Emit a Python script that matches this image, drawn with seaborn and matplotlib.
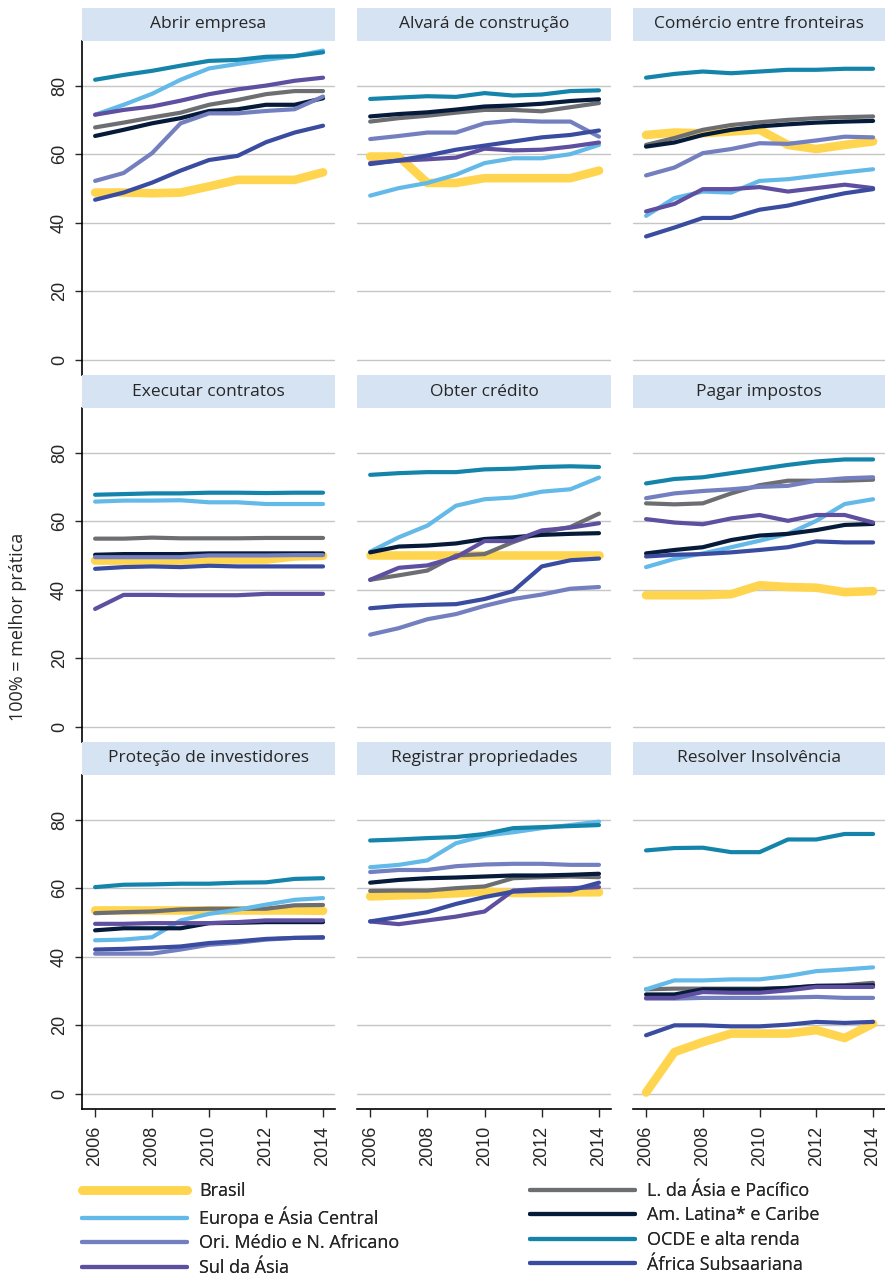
import numpy as np
import pandas as pd
import matplotlib
matplotlib.use('Agg')
import matplotlib.pyplot as plt
from matplotlib.patches import Rectangle
from matplotlib.lines import Line2D
import seaborn as sns

# --- Dados (Doing Business, distância da fronteira) ---
years = list(range(2006, 2015))

regions = ['Brasil', 'L. da Ásia e Pacífico', 'Europa e Ásia Central',
           'Am. Latina* e Caribe', 'Ori. Médio e N. Africano',
           'OCDE e alta renda', 'Sul da Ásia', 'África Subsaariana']

titles = ['Abrir empresa', 'Alvará de construção', 'Comércio entre fronteiras',
          'Executar contratos', 'Obter crédito', 'Pagar impostos',
          'Proteção de investidores', 'Registrar propriedades', 'Resolver Insolvência']

abrir_empresa = {
    'Brasil':                   [48.8, 48.8, 48.6, 48.8, 50.6, 52.5, 52.5, 52.5, 54.7],
    'L. da Ásia e Pacífico':    [67.8, 69.2, 70.7, 72.1, 74.4, 75.8, 77.5, 78.4, 78.4],
    'Europa e Ásia Central':    [71.5, 74.4, 77.6, 81.7, 85.0, 86.3, 87.5, 88.6, 90.2],
    'Am. Latina* e Caribe':     [65.3, 67.1, 69.0, 70.5, 72.6, 73.1, 74.4, 74.4, 76.3],
    'Ori. Médio e N. Africano': [52.2, 54.5, 60.3, 69.0, 71.9, 71.9, 72.6, 73.1, 76.8],
    'OCDE e alta renda':        [81.7, 83.1, 84.3, 85.8, 87.2, 87.5, 88.4, 88.6, 89.7],
    'Sul da Ásia':              [71.5, 72.9, 73.9, 75.6, 77.5, 78.9, 80.0, 81.4, 82.3],
    'África Subsaariana':       [46.7, 48.8, 51.7, 55.2, 58.3, 59.5, 63.5, 66.3, 68.3],
}
alvara = {
    'Brasil':                   [59.3, 59.3, 51.6, 51.6, 53.0, 53.0, 53.0, 53.0, 55.2],
    'L. da Ásia e Pacífico':    [69.5, 70.5, 71.2, 72.1, 72.9, 72.9, 72.5, 73.7, 74.9],
    'Europa e Ásia Central':    [47.9, 50.1, 51.6, 54.0, 57.4, 58.8, 58.8, 60.0, 62.7],
    'Am. Latina* e Caribe':     [71.0, 71.7, 72.2, 73.0, 73.9, 74.2, 74.7, 75.5, 76.0],
    'Ori. Médio e N. Africano': [64.4, 65.3, 66.3, 66.3, 69.0, 69.8, 69.5, 69.5, 65.1],
    'OCDE e alta renda':        [76.1, 76.5, 76.9, 76.7, 77.8, 77.1, 77.4, 78.4, 78.6],
    'Sul da Ásia':              [57.4, 58.1, 58.5, 59.0, 61.6, 61.1, 61.3, 62.2, 63.4],
    'África Subsaariana':       [57.1, 58.2, 59.6, 61.3, 62.5, 63.7, 64.9, 65.6, 66.9],
}
comercio = {
    'Brasil':                   [65.6, 66.3, 66.1, 66.6, 67.1, 62.7, 61.5, 62.7, 63.7],
    'L. da Ásia e Pacífico':    [62.7, 64.7, 67.1, 68.5, 69.3, 70.0, 70.5, 70.8, 71.0],
    'Europa e Ásia Central':    [42.0, 47.2, 49.1, 48.8, 52.2, 52.7, 53.7, 54.7, 55.6],
    'Am. Latina* e Caribe':     [62.2, 63.4, 65.6, 67.1, 68.1, 68.7, 69.2, 69.5, 69.7],
    'Ori. Médio e N. Africano': [53.8, 56.1, 60.3, 61.5, 63.2, 63.0, 64.0, 65.1, 64.9],
    'OCDE e alta renda':        [82.3, 83.4, 84.1, 83.6, 84.1, 84.6, 84.6, 84.9, 84.9],
    'Sul da Ásia':              [43.3, 45.5, 49.8, 49.8, 50.4, 49.1, 50.1, 51.1, 50.1],
    'África Subsaariana':       [36.0, 38.6, 41.4, 41.4, 43.8, 45.0, 46.9, 48.6, 49.8],
}
contratos = {
    'Brasil':                   [48.5, 48.5, 48.5, 48.5, 48.8, 48.8, 48.8, 49.7, 49.9],
    'L. da Ásia e Pacífico':    [54.9, 54.9, 55.2, 55.0, 55.0, 55.0, 55.1, 55.1, 55.1],
    'Europa e Ásia Central':    [65.7, 66.0, 66.0, 66.1, 65.5, 65.5, 65.0, 65.0, 65.0],
    'Am. Latina* e Caribe':     [50.2, 50.4, 50.4, 50.4, 50.6, 50.6, 50.6, 50.6, 50.6],
    'Ori. Médio e N. Africano': [49.5, 49.5, 49.5, 49.5, 50.0, 50.0, 50.0, 50.1, 50.1],
    'OCDE e alta renda':        [67.7, 67.9, 68.1, 68.1, 68.3, 68.3, 68.2, 68.3, 68.3],
    'Sul da Ásia':              [34.4, 38.5, 38.5, 38.4, 38.4, 38.4, 38.8, 38.8, 38.8],
    'África Subsaariana':       [46.1, 46.6, 46.8, 46.6, 47.0, 46.8, 46.8, 46.8, 46.8],
}
credito = {
    'Brasil':                   [50.0, 50.0, 50.0, 50.0, 50.0, 50.0, 50.0, 50.0, 50.0],
    'L. da Ásia e Pacífico':    [42.9, 44.2, 45.6, 50.0, 50.4, 53.9, 56.8, 58.3, 62.2],
    'Europa e Ásia Central':    [51.1, 55.3, 58.7, 64.5, 66.4, 66.9, 68.6, 69.3, 72.7],
    'Am. Latina* e Caribe':     [50.9, 52.6, 52.9, 53.5, 54.8, 55.3, 56.0, 56.3, 56.5],
    'Ori. Médio e N. Africano': [26.9, 28.8, 31.4, 32.9, 35.3, 37.3, 38.6, 40.3, 40.8],
    'OCDE e alta renda':        [73.5, 74.0, 74.3, 74.3, 75.1, 75.3, 75.8, 76.0, 75.8],
    'Sul da Ásia':              [42.9, 46.4, 47.1, 49.5, 54.2, 54.2, 57.3, 58.1, 59.4],
    'África Subsaariana':       [34.6, 35.3, 35.6, 35.8, 37.3, 39.6, 46.8, 48.6, 49.1],
}
impostos = {
    'Brasil':                   [38.4, 38.4, 38.4, 38.7, 41.3, 40.8, 40.6, 39.3, 39.6],
    'L. da Ásia e Pacífico':    [65.2, 64.9, 65.2, 68.1, 70.5, 71.8, 71.8, 71.8, 72.1],
    'Europa e Ásia Central':    [46.6, 49.0, 50.6, 52.4, 54.3, 56.3, 60.1, 65.0, 66.4],
    'Am. Latina* e Caribe':     [50.6, 51.6, 52.4, 54.5, 55.8, 56.3, 57.4, 58.9, 59.2],
    'Ori. Médio e N. Africano': [66.7, 68.1, 68.8, 69.3, 70.0, 70.3, 71.8, 72.5, 72.8],
    'OCDE e alta renda':        [71.0, 72.3, 72.8, 74.0, 75.2, 76.4, 77.4, 78.0, 78.0],
    'Sul da Ásia':              [60.6, 59.6, 59.1, 60.8, 61.8, 60.1, 61.8, 61.8, 59.6],
    'África Subsaariana':       [49.7, 50.2, 50.4, 50.9, 51.6, 52.4, 54.1, 53.8, 53.8],
}
investidores = {
    'Brasil':                   [53.5, 53.5, 53.5, 53.5, 53.5, 53.5, 53.5, 53.5, 53.4],
    'L. da Ásia e Pacífico':    [52.7, 53.0, 53.2, 53.8, 54.0, 54.0, 54.0, 55.0, 55.1],
    'Europa e Ásia Central':    [44.8, 45.0, 45.7, 50.6, 52.5, 53.7, 55.2, 56.6, 57.1],
    'Am. Latina* e Caribe':     [47.7, 48.3, 48.3, 48.3, 49.8, 49.9, 50.1, 50.1, 50.1],
    'Ori. Médio e N. Africano': [40.9, 40.9, 40.9, 42.1, 43.5, 44.1, 45.0, 45.5, 45.5],
    'OCDE e alta renda':        [60.3, 61.0, 61.1, 61.3, 61.3, 61.6, 61.7, 62.7, 62.9],
    'Sul da Ásia':              [49.6, 49.6, 49.8, 49.8, 49.8, 50.1, 50.6, 50.6, 50.6],
    'África Subsaariana':       [42.1, 42.3, 42.6, 43.0, 44.0, 44.5, 45.2, 45.5, 45.7],
}
propriedades = {
    'Brasil':                   [57.6, 57.9, 58.1, 58.5, 59.0, 58.6, 58.6, 58.8, 58.8],
    'L. da Ásia e Pacífico':    [59.2, 59.3, 59.3, 60.0, 60.5, 62.9, 63.2, 63.4, 63.2],
    'Europa e Ásia Central':    [66.1, 66.8, 68.1, 73.1, 75.3, 76.3, 77.5, 78.4, 79.4],
    'Am. Latina* e Caribe':     [61.6, 62.4, 62.9, 63.1, 63.4, 63.7, 63.7, 63.9, 64.2],
    'Ori. Médio e N. Africano': [64.7, 65.3, 65.3, 66.4, 66.9, 67.1, 67.1, 66.8, 66.8],
    'OCDE e alta renda':        [73.9, 74.2, 74.6, 74.9, 75.8, 77.5, 77.8, 78.1, 78.4],
    'Sul da Ásia':              [50.3, 49.5, 50.6, 51.7, 53.2, 59.3, 59.8, 60.0, 60.3],
    'África Subsaariana':       [50.3, 51.6, 53.0, 55.4, 57.4, 59.0, 59.3, 59.3, 61.6],
}
insolvencia = {
    'Brasil':                   [0.4, 12.2, 15.1, 17.6, 17.6, 17.6, 18.6, 16.3, 20.5],
    'L. da Ásia e Pacífico':    [30.5, 30.7, 30.7, 30.7, 30.7, 30.9, 31.5, 31.7, 32.4],
    'Europa e Ásia Central':    [30.5, 33.1, 33.1, 33.4, 33.4, 34.4, 35.8, 36.3, 36.9],
    'Am. Latina* e Caribe':     [29.0, 29.0, 30.5, 30.5, 30.5, 30.9, 31.5, 31.5, 31.7],
    'Ori. Médio e N. Africano': [27.8, 27.8, 28.0, 28.0, 28.0, 28.1, 28.3, 28.0, 28.0],
    'OCDE e alta renda':        [71.0, 71.7, 71.8, 70.5, 70.5, 74.2, 74.2, 75.8, 75.8],
    'Sul da Ásia':              [28.0, 28.0, 29.7, 29.5, 29.5, 30.2, 31.2, 31.2, 31.2],
    'África Subsaariana':       [17.1, 20.0, 20.0, 19.7, 19.7, 20.2, 21.0, 20.7, 21.0],
}

panels = [abrir_empresa, alvara, comercio, contratos, credito, impostos,
          investidores, propriedades, insolvencia]

# Tabela longa para o seaborn
rows = []
for title, panel in zip(titles, panels):
    for reg in regions:
        for yr, val in zip(years, panel[reg]):
            rows.append({'painel': title, 'regiao': reg, 'ano': yr, 'valor': val})
df = pd.DataFrame(rows)

# --- Estilo ---
cores = {
    'Brasil': '#ffd54f',
    'L. da Ásia e Pacífico': '#6d6e71',
    'Europa e Ásia Central': '#63b9e8',
    'Am. Latina* e Caribe': '#061b3a',
    'Ori. Médio e N. Africano': '#737fbf',
    'OCDE e alta renda': '#1484aa',
    'Sul da Ásia': '#5e4fa0',
    'África Subsaariana': '#3a4c9f',
}
larguras = {r: 3.0 for r in regions}
larguras['Brasil'] = 6.2

sns.set_style('white')
plt.rcParams['font.family'] = ['Liberation Sans', 'DejaVu Sans']
fonte_txt = ['Open Sans', 'DejaVu Sans']

fig = plt.figure(figsize=(8.85, 12.77), dpi=100)
W, H = 885, 1277
col_left = [82, 357, 633]
col_w = [253, 254, 252]
row_top = [41, 408, 775]
plot_h = 334
strip_h = 33

for i, title in enumerate(titles):
    r, c = divmod(i, 3)
    ax = fig.add_axes([col_left[c] / W, 1 - (row_top[r] + plot_h) / H,
                       col_w[c] / W, plot_h / H])
    sub = df[df['painel'] == title]
    sns.lineplot(data=sub, x='ano', y='valor', hue='regiao', size='regiao',
                 hue_order=regions, size_order=regions, palette=cores,
                 sizes=larguras, estimator=None, legend=False, ax=ax,
                 solid_capstyle='round')

    ax.set_xlim(2005.54, 2014.42)
    ax.set_ylim(-4.4, 93)
    ax.set_yticks([0, 20, 40, 60, 80])
    ax.set_xticks([2006, 2008, 2010, 2012, 2014])
    ax.yaxis.grid(True, color='#c6c6c6', linewidth=1)
    ax.xaxis.grid(False)
    ax.set_axisbelow(True)
    ax.set_xlabel('')
    ax.set_ylabel('')
    for s in ['top', 'right']:
        ax.spines[s].set_visible(False)

    if c == 0:
        ax.spines['left'].set_color('black')
        ax.spines['left'].set_linewidth(1.2)
        ax.tick_params(axis='y', direction='out', length=5, width=1, pad=5,
                       labelsize=13, left=True, labelrotation=90)
        plt.setp(ax.get_yticklabels(), va='center')
    else:
        ax.spines['left'].set_visible(False)
        ax.tick_params(axis='y', left=False, labelleft=False)

    if r == 2:
        ax.spines['bottom'].set_color('black')
        ax.spines['bottom'].set_linewidth(1.2)
        ax.tick_params(axis='x', direction='out', length=6, width=1, pad=6,
                       labelsize=13, bottom=True, labelrotation=90)
    else:
        ax.spines['bottom'].set_visible(False)
        ax.tick_params(axis='x', bottom=False, labelbottom=False)

    # faixa de título (estilo Stata)
    ax.add_patch(Rectangle((0, 1), 1, strip_h / plot_h, transform=ax.transAxes,
                           facecolor='#d5e3f3', edgecolor='none', clip_on=False,
                           zorder=5))
    ax.text(0.5, 1 + strip_h / plot_h / 2, title, transform=ax.transAxes,
            ha='center', va='center', fontsize=12.5, family=fonte_txt, zorder=6)

fig.text(18 / W, 1 - 627 / H, '100% = melhor prática', rotation=90,
         ha='center', va='center', fontsize=13, family=fonte_txt)

# --- Legenda em duas colunas ---
def handle(reg):
    return Line2D([], [], color=cores[reg], linewidth=larguras[reg],
                  solid_capstyle='round')

leg_font = {'family': fonte_txt, 'size': 13}
esq = ['Brasil', 'Europa e Ásia Central', 'Ori. Médio e N. Africano', 'Sul da Ásia']
dir_ = ['L. da Ásia e Pacífico', 'Am. Latina* e Caribe', 'OCDE e alta renda',
        'África Subsaariana']
for nomes, x0 in [(esq, 82), (dir_, 530)]:
    leg = fig.legend([handle(n) for n in nomes], nomes, loc='upper left',
                     bbox_to_anchor=(x0 / W, 1 - 1182 / H), frameon=False,
                     borderpad=0, borderaxespad=0, handlelength=5.8,
                     handletextpad=0.67, labelspacing=0.36, prop=leg_font)
    fig.add_artist(leg)

fig.savefig('out.png', dpi=100)
